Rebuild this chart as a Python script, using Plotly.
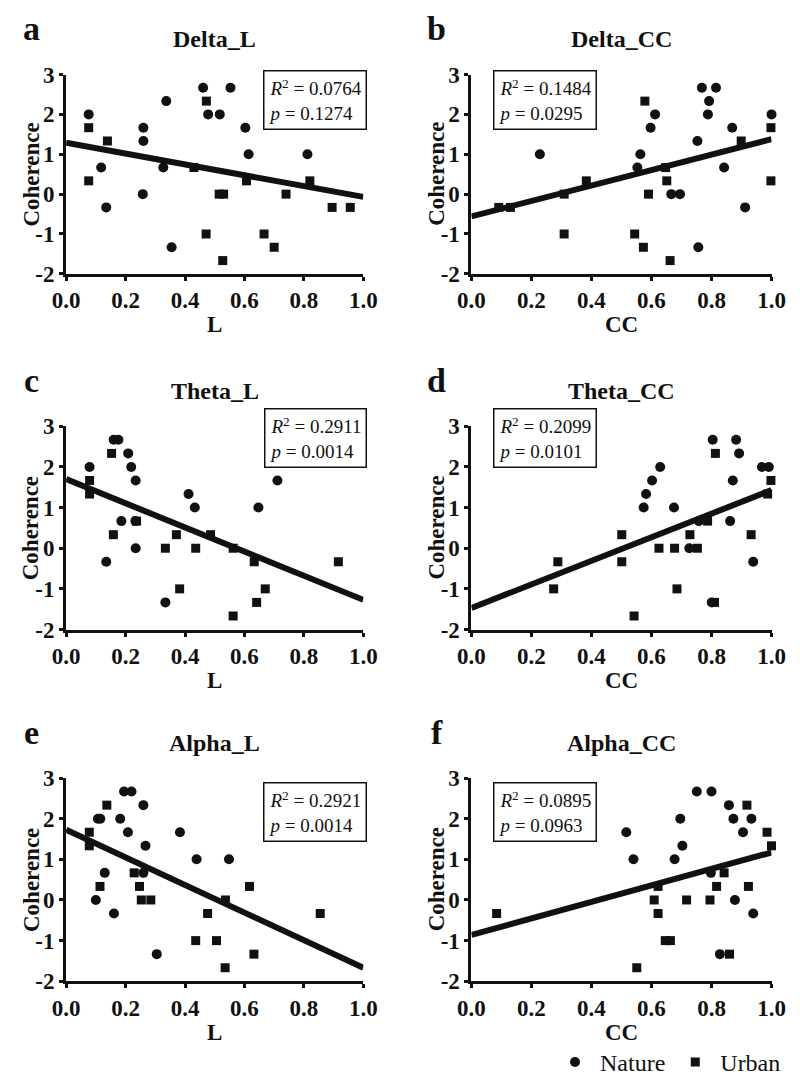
import numpy as np
import plotly.graph_objects as go

# ---- data (Coherence scores are multiples of 1/3) ----
delta_L_nature_x = [0.076, 0.118, 0.135, 0.26, 0.26, 0.258, 0.337, 0.327, 0.355, 0.461, 0.478, 0.517, 0.553, 0.603, 0.614, 0.812]
delta_L_nature_y = [2, 0.667, -0.333, 1.667, 1.333, 0, 2.333, 0.667, -1.333, 2.667, 2, 2, 2.667, 1.667, 1, 1]
delta_L_urban_x = [0.076, 0.076, 0.139, 0.472, 0.43, 0.471, 0.515, 0.53, 0.527, 0.607, 0.666, 0.70, 0.74, 0.82, 0.895, 0.956]
delta_L_urban_y = [1.667, 0.333, 1.333, 2.333, 0.667, -1, 0, 0, -1.667, 0.333, -1, -1.333, 0, 0.333, -0.333, -0.333]

delta_CC_nature_x = [0.228, 0.553, 0.563, 0.597, 0.612, 0.666, 0.695, 0.753, 0.756, 0.768, 0.792, 0.788, 0.815, 0.842, 0.869, 0.912, 1.0]
delta_CC_nature_y = [1, 0.667, 1, 1.667, 2, 0, 0, 1.333, -1.333, 2.667, 2.333, 2, 2.667, 0.667, 1.667, -0.333, 2]
delta_CC_urban_x = [0.091, 0.13, 0.309, 0.309, 0.383, 0.544, 0.573, 0.578, 0.59, 0.647, 0.651, 0.662, 0.899, 0.998, 0.998]
delta_CC_urban_y = [-0.333, -0.333, 0, -1, 0.333, -1, -1.333, 2.333, 0, 0.667, 0.333, -1.667, 1.333, 1.667, 0.333]

theta_L_nature_x = [0.079, 0.135, 0.16, 0.176, 0.186, 0.209, 0.219, 0.234, 0.233, 0.234, 0.334, 0.412, 0.433, 0.647, 0.711]
theta_L_nature_y = [2, -0.333, 2.667, 2.667, 0.667, 2.333, 2, 1.667, 0.667, 0, -1.333, 1.333, 1, 1, 1.667]
theta_L_urban_x = [0.079, 0.079, 0.153, 0.159, 0.237, 0.334, 0.371, 0.382, 0.436, 0.486, 0.562, 0.562, 0.633, 0.641, 0.67, 0.916]
theta_L_urban_y = [1.667, 1.333, 2.333, 0.333, 0.667, 0, 0.333, -1, 0, 0.333, 0, -1.667, -0.333, -1.333, -1, -0.333]

theta_CC_nature_x = [0.574, 0.582, 0.602, 0.629, 0.675, 0.726, 0.758, 0.804, 0.801, 0.871, 0.862, 0.882, 0.892, 0.939, 0.968, 0.991]
theta_CC_nature_y = [1, 1.333, 1.667, 2, 1, 0, 0.667, 2.667, -1.333, 1.667, 0.667, 2.667, 2.333, -0.333, 2, 2]
theta_CC_urban_x = [0.274, 0.288, 0.501, 0.501, 0.542, 0.625, 0.677, 0.685, 0.728, 0.753, 0.787, 0.813, 0.81, 0.932, 0.987, 0.998]
theta_CC_urban_y = [-1, -0.333, 0.333, -0.333, -1.667, 0, 0, -1, 0.333, 0, 0.667, 2.333, -1.333, 0.333, 1.333, 1.667]

alpha_L_nature_x = [0.1, 0.107, 0.115, 0.13, 0.161, 0.182, 0.195, 0.22, 0.208, 0.26, 0.267, 0.26, 0.305, 0.383, 0.439, 0.548]
alpha_L_nature_y = [0, 2, 2, 0.667, -0.333, 2, 2.667, 2.667, 1.667, 2.333, 1.333, 0.667, -1.333, 1.667, 1, 1]
alpha_L_urban_x = [0.078, 0.078, 0.114, 0.137, 0.229, 0.247, 0.253, 0.285, 0.436, 0.476, 0.506, 0.536, 0.535, 0.617, 0.632, 0.855]
alpha_L_urban_y = [1.667, 1.333, 0.333, 2.333, 0.667, 0.333, 0, 0, -1, -0.333, -1, 0, -1.667, 0.333, -1.333, -0.333]

alpha_CC_nature_x = [0.516, 0.54, 0.677, 0.696, 0.703, 0.751, 0.8, 0.798, 0.828, 0.858, 0.873, 0.878, 0.905, 0.933, 0.939]
alpha_CC_nature_y = [1.667, 1, 1, 2, 1.333, 2.667, 2.667, 0.667, -1.333, 2.333, 2, 0, 1.667, 2, -0.333]
alpha_CC_urban_x = [0.084, 0.551, 0.609, 0.622, 0.622, 0.646, 0.663, 0.717, 0.795, 0.817, 0.842, 0.86, 0.918, 0.923, 0.985, 1.0]
alpha_CC_urban_y = [-0.333, -1.667, 0, 0.333, -0.333, -1, -1, 0, 0, 0.333, 0.667, -1.333, 2.333, 0.333, 1.667, 1.333]

titles = ["Delta_L", "Delta_CC", "Theta_L", "Theta_CC", "Alpha_L", "Alpha_CC"]
letters = ["a", "b", "c", "d", "e", "f"]
x_titles = ["L", "CC", "L", "CC", "L", "CC"]
fit_intercept = [1.29, -0.56, 1.70, -1.47, 1.73, -0.86]
fit_slope = [-1.36, 1.94, -2.97, 2.90, -3.40, 2.03]
r2_text = ["0.0764", "0.1484", "0.2911", "0.2099", "0.2921", "0.0895"]
p_text = ["0.1274", "0.0295", "0.0014", "0.0101", "0.0014", "0.0963"]

nature = [(delta_L_nature_x, delta_L_nature_y), (delta_CC_nature_x, delta_CC_nature_y),
          (theta_L_nature_x, theta_L_nature_y), (theta_CC_nature_x, theta_CC_nature_y),
          (alpha_L_nature_x, alpha_L_nature_y), (alpha_CC_nature_x, alpha_CC_nature_y)]
urban = [(delta_L_urban_x, delta_L_urban_y), (delta_CC_urban_x, delta_CC_urban_y),
         (theta_L_urban_x, theta_L_urban_y), (theta_CC_urban_x, theta_CC_urban_y),
         (alpha_L_urban_x, alpha_L_urban_y), (alpha_CC_urban_x, alpha_CC_urban_y)]

x_range = [0.0, 1.0]
y_range = [-2, 3]
y_ticks = [-2, -1, 0, 1, 2, 3]

W, H = 800, 1091
SERIF = "Liberation Serif"

# plot areas in pixels (left, right, top, bottom)
col_px = [(54, 362), (474, 785)]
row_px = [(64, 268), (424, 632), (784, 992)]
box_top_px = [59, 405, 788]   # top edge of the stats box in each row

fig = go.Figure()
annotations = []

for i in range(6):
    r, c = divmod(i, 2)
    xa = "x" if i == 0 else f"x{i + 1}"
    ya = "y" if i == 0 else f"y{i + 1}"
    l, rr = col_px[c]
    t, b = row_px[r]

    nx_, ny_ = nature[i]
    ux_, uy_ = urban[i]
    fig.add_trace(go.Scatter(
        x=nx_, y=ny_, mode="markers", name="Nature", xaxis=xa, yaxis=ya,
        marker=dict(symbol="circle", size=10, color="#111"),
        cliponaxis=False, showlegend=(i == 0), legendgroup="n"))
    fig.add_trace(go.Scatter(
        x=ux_, y=uy_, mode="markers", name="Urban", xaxis=xa, yaxis=ya,
        marker=dict(symbol="square", size=9, color="#111"),
        cliponaxis=False, showlegend=(i == 0), legendgroup="u"))

    fx = np.array(x_range)
    fy = fit_intercept[i] + fit_slope[i] * fx
    fig.add_trace(go.Scatter(
        x=fx, y=fy, mode="lines", xaxis=xa, yaxis=ya, showlegend=False,
        line=dict(color="#111", width=6), cliponaxis=False, hoverinfo="skip"))

    axis_common = dict(
        showline=True, linewidth=3, linecolor="#111", ticks="outside",
        ticklen=4, tickwidth=3, tickcolor="#111", showgrid=False, zeroline=False,
        tickfont=dict(family=SERIF, size=23, color="#111", weight="bold"))
    fig.layout[f"xaxis{'' if i == 0 else i + 1}"] = dict(
        domain=[l / W, rr / W], anchor=ya, range=x_range,
        tickvals=[0, 0.2, 0.4, 0.6, 0.8, 1.0], ticktext=["0.0", "0.2", "0.4", "0.6", "0.8", "1.0"],
        **axis_common)
    fig.layout[f"yaxis{'' if i == 0 else i + 1}"] = dict(
        domain=[1 - b / H, 1 - t / H], anchor=xa, range=y_range,
        tickvals=y_ticks, ticktext=[str(v) for v in y_ticks], **axis_common)

    # panel letter, title, axis titles
    annotations.append(dict(
        text=f"<b>{letters[i]}</b>", x=(18 if c == 0 else 438) / W, y=1 - (t - 47) / H,
        xref="paper", yref="paper", showarrow=False, xanchor="center", yanchor="middle",
        font=dict(family=SERIF, size=34, color="#111")))
    annotations.append(dict(
        text=f"<b>{titles[i]}</b>", x=(l + rr) / 2 / W, y=1 - (t - 36) / H,
        xref="paper", yref="paper", showarrow=False, xanchor="center", yanchor="middle",
        font=dict(family=SERIF, size=24, color="#111")))
    annotations.append(dict(
        text="<b>Coherence</b>", x=(l - 36) / W, y=1 - (t + b) / 2 / H, textangle=-90,
        xref="paper", yref="paper", showarrow=False, xanchor="center", yanchor="middle",
        font=dict(family=SERIF, size=23, color="#111")))
    annotations.append(dict(
        text=f"<b>{x_titles[i]}</b>", x=(l + rr) / 2 / W, y=1 - (b + 52) / H,
        xref="paper", yref="paper", showarrow=False, xanchor="center", yanchor="middle",
        font=dict(family=SERIF, size=23, color="#111")))

    # stats box
    box_text = f"<i>R</i><sup>2</sup> = {r2_text[i]}<br><i>p</i> = {p_text[i]}"
    if c == 0:
        bx, xanc = 1.013, "right"
    else:
        bx, xanc = 0.071, "left"
    annotations.append(dict(
        text=box_text, x=bx, y=1 + (t - box_top_px[r]) / (b - t),
        xref=f"{xa} domain", yref=f"{ya} domain",
        showarrow=False, xanchor=xanc, yanchor="top", align="left",
        bordercolor="#111", borderwidth=1.5, borderpad=4, bgcolor="white",
        font=dict(family=SERIF, size=19, color="#111")))

fig.update_layout(
    width=W, height=H, margin=dict(l=0, r=0, t=0, b=0),
    plot_bgcolor="white", paper_bgcolor="white",
    annotations=annotations,
    legend=dict(orientation="h", x=1, xanchor="right", y=1 - 1075 / H, yanchor="middle",
                font=dict(family=SERIF, size=24, color="#111"), itemwidth=40),
)

# drop the default 8px page margin so the figure sits at the window origin
fig.write_html("out.html", config={"displayModeBar": False},
               post_script="document.body.style.margin='0';document.body.style.overflow='hidden';")
